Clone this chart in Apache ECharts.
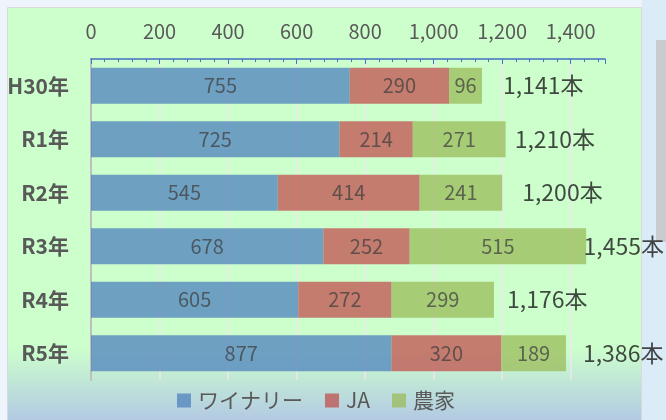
<!DOCTYPE html>
<html><head><meta charset="utf-8">
<script src="https://cdn.jsdelivr.net/npm/echarts@6/dist/echarts.min.js"></script>
<style>html,body{margin:0;padding:0;background:#eef4fb}#c{width:666px;height:420px}</style>
</head><body><div id="c"></div>
<script>
const categories = ['H30年', 'R1年', 'R2年', 'R3年', 'R4年', 'R5年'];
const seriesNames = ['ワイナリー', 'JA', '農家'];
const winery = [755, 725, 545, 678, 605, 877];
const ja = [290, 214, 414, 252, 272, 320];
const farmers = [96, 271, 241, 515, 299, 189];
const totals = [1141, 1210, 1200, 1455, 1176, 1386];
const totalLabelShift = [21, 9, 20, -6, 13, 17];

const FONT = "'Noto Sans CJK JP', 'Noto Sans', sans-serif";
const colors = ['#4F81BD', '#C0504D', '#9BBB59'];
const fmt = v => Number(v).toLocaleString('en-US');

const chart = echarts.init(document.getElementById('c'), null, {renderer: 'canvas'});
const barSeries = [winery, ja, farmers].map((vals, i) => ({
  name: seriesNames[i],
  type: 'bar',
  stack: 'total',
  barWidth: 36,
  data: vals,
  itemStyle: {color: colors[i], opacity: 0.75},
  label: {show: true, position: 'inside', color: '#404040', fontSize: 20, fontFamily: FONT},
  emphasis: {disabled: true}
}));

chart.setOption({
  animation: false,
  backgroundColor: '#eef4fb',
  textStyle: {fontFamily: FONT},
  graphic: [
    {type: 'rect', z: -10, silent: true, shape: {x: 642, y: 0, width: 24, height: 420}, style: {fill: '#dcebf8'}},
    {type: 'rect', z: -9, silent: true, shape: {x: 656, y: 40, width: 10, height: 202}, style: {fill: '#c9cbce'}},
    {type: 'rect', z: -8, silent: true, shape: {x: 7.5, y: 7.5, width: 634, height: 420},
      style: {fill: new echarts.graphic.LinearGradient(0, 0, 0, 1, [
        {offset: 0, color: '#ccffcc'}, {offset: 0.81, color: '#ccffcc'}, {offset: 1, color: '#b0c4e6'}]),
        stroke: '#d9d9d9', lineWidth: 1}}
  ],
  grid: {left: 91, top: 59, right: 61, bottom: 40, containLabel: false},
  legend: {
    data: seriesNames, top: 390, left: 177, padding: 0,
    itemWidth: 14, itemHeight: 14, itemGap: 22, icon: 'rect',
    textStyle: {color: '#595959', fontSize: 21, fontFamily: FONT, padding: [0, 0, 0, 2]},
    selectedMode: false
  },
  xAxis: {
    type: 'value', position: 'top', min: 0, max: 1500, interval: 200,
    axisLine: {show: true, lineStyle: {color: '#4472c4', width: 1.5}},
    axisTick: {show: true, inside: true, length: 5, lineStyle: {color: '#4472c4'}},
    minorTick: {show: true, splitNumber: 5, length: 3, lineStyle: {color: '#4472c4'}},
    axisLabel: {color: '#595959', fontSize: 20, margin: 18, formatter: fmt, showMaxLabel: false, fontFamily: FONT},
    splitLine: {show: true, showMaxLine: false, lineStyle: {color: '#f1e6ec', width: 1.5}}
  },
  yAxis: {
    type: 'category', inverse: true, data: categories,
    axisLine: {show: true, lineStyle: {color: '#bfbfbf', width: 2}},
    axisTick: {show: false},
    axisLabel: {color: '#595959', fontSize: 21, fontWeight: 'bold', margin: 22, fontFamily: FONT}
  },
  series: barSeries.concat([{
    name: 'total', type: 'scatter', symbolSize: 0, silent: true,
    data: totals.map((t, i) => ({value: [t, i], label: {offset: [totalLabelShift[i], 0]}})),
    label: {show: true, position: 'right', distance: 0, color: '#1a1a1a', fontSize: 23, fontFamily: FONT,
      formatter: p => fmt(p.value[0]) + '本'},
    z: 5
  }])
});
</script></body></html>
